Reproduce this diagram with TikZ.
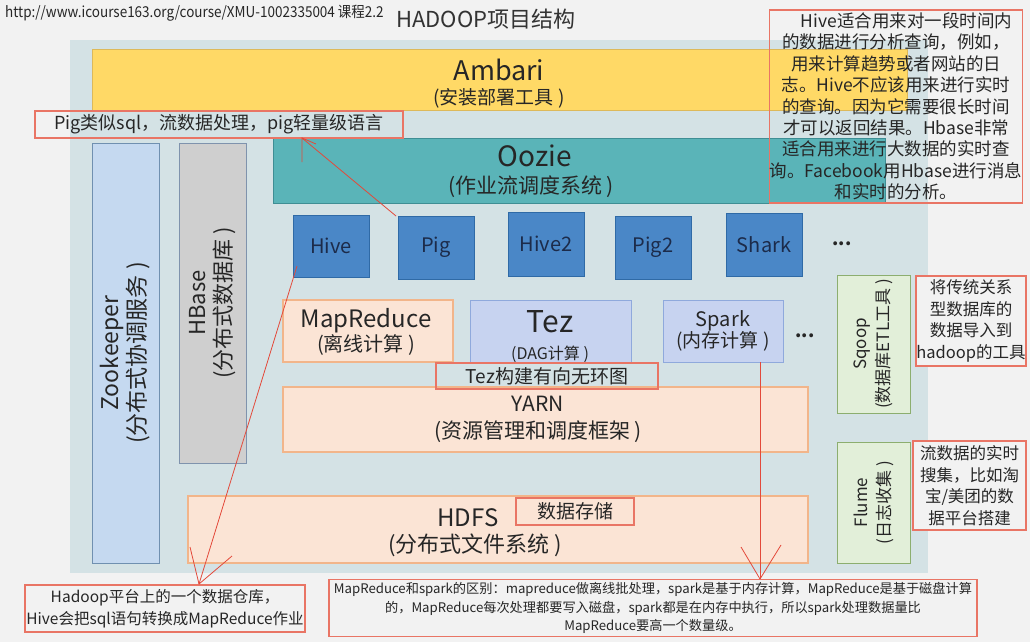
\documentclass[tikz,border=0pt]{standalone}
\usepackage{fontspec}
\setmainfont{Noto Sans CJK SC}
\usepackage{graphicx}
\definecolor{bgc}{HTML}{F2F2F2}
\definecolor{panelc}{HTML}{D4E2E5}
\definecolor{ambc}{HTML}{FFD966}
\definecolor{ambd}{HTML}{DDB95A}
\definecolor{oozc}{HTML}{5AB4B8}
\definecolor{oozd}{HTML}{3F8E94}
\definecolor{zkc}{HTML}{C5D9F0}
\definecolor{zkd}{HTML}{7090B0}
\definecolor{hbc}{HTML}{CFCFCF}
\definecolor{hbd}{HTML}{7F93AD}
\definecolor{bluec}{HTML}{4A87C7}
\definecolor{blued}{HTML}{2F6AA6}
\definecolor{bluet}{HTML}{1C2B4A}
\definecolor{peachc}{HTML}{FBE4D5}
\definecolor{peachd}{HTML}{F2B58A}
\definecolor{tezc}{HTML}{C7D3F0}
\definecolor{tezd}{HTML}{8FA9DC}
\definecolor{greenc}{HTML}{E2EFD9}
\definecolor{greend}{HTML}{8CAE6F}
\definecolor{notered}{HTML}{E97565}
\definecolor{arrred}{HTML}{E3493A}
\definecolor{txt}{HTML}{262626}
\newcommand\myfs[2]{\fontsize{#1}{#2}\selectfont}
\begin{document}
\begin{tikzpicture}[x=1pt,y=-1pt,
  box/.style={draw, line width=0.8pt, inner sep=0pt, align=center, text=txt},
  ambbox/.style={box, fill=ambc, draw=ambd},
  oozbox/.style={box, fill=oozc, draw=oozd},
  zkbox/.style={box, fill=zkc, draw=zkd},
  hbbox/.style={box, fill=hbc, draw=hbd},
  bluebox/.style={box, fill=bluec, draw=blued, text=bluet, minimum width=76pt, font=\myfs{20}{24}},
  peachbox/.style={box, fill=peachc, draw=peachd, line width=1.2pt},
  tezbox/.style={box, fill=tezc, draw=tezd, line width=1pt},
  greenbox/.style={box, fill=greenc, draw=greend, line width=1pt},
  note/.style={draw=notered, line width=1.1pt, inner sep=0pt, align=center, text=txt},
  lbl/.style={inner sep=0pt, align=center, text=txt},
  rot/.style={lbl, rotate=90},
  redline/.style={draw=arrred, line width=0.8pt},
  dots/.style={inner sep=0pt, text=txt, font=\myfs{18}{20}\bfseries}
]
\useasboundingbox (0,0) rectangle (1030,642);
\fill[bgc] (0,0) rectangle (1030,642);

% title and url
\node[lbl, anchor=west, font=\myfs{15}{17}] (url) at (5,13) {\scalebox{0.9}[1]{http://www.icourse163.org/course/XMU-1002335004 课程2.2}};
\node[lbl, font=\myfs{22}{24}, text=black!80] (title) at (486,19) {HADOOP项目结构};

% panel
\node[fill=panelc, inner sep=0pt, minimum width=858pt, minimum height=533pt] (panel) at (499,306.5) {};

% Ambari and Oozie
\node[ambbox, minimum width=815pt, minimum height=61pt] (ambari) at (499.5,79.5) {};
\node[lbl, font=\myfs{27}{30}] (ambt) at (499,70) {Ambari};
\node[lbl, font=\myfs{19}{22}] (ambs) at (499,98) {(安装部署工具 )};
\node[oozbox, minimum width=612pt, minimum height=65pt] (oozie) at (579,170.5) {};
\node[lbl, font=\myfs{28}{30}] (oozt) at (535,156) {Oozie};
\node[lbl, font=\myfs{21}{24}] (oozs) at (531,187) {(作业流调度系统 )};

% Zookeeper and HBase
\node[zkbox, minimum width=67pt, minimum height=420pt] (zk) at (125.5,353) {};
\node[rot, font=\myfs{23}{27}] (zkt) at (zk) {Zookeeper\\(分布式协调服务 )};
\node[hbbox, minimum width=67pt, minimum height=320pt] (hb) at (212.5,303) {};
\node[rot, font=\myfs{22}{26}] (hbt) at (hb) {HBase\\(分布式数据库 )};

% blue boxes
\node[bluebox, minimum height=62pt] (hive) at (331,246) {Hive};
\node[bluebox, minimum height=63pt] (pig) at (436,247.5) {Pig};
\node[bluebox, minimum height=64pt] (hive2) at (546,244) {Hive2};
\node[bluebox, minimum height=63pt] (pig2) at (653,247.5) {Pig2};
\node[bluebox, minimum height=63pt] (shark) at (764,244.5) {Shark};
\node[dots] (dots1) at (842,244) {...};

% processing row
\node[peachbox, minimum width=170pt, minimum height=62pt] (mr) at (368,331) {};
\node[lbl] (mrt) at (366,332) {{\myfs{24}{28}MapReduce}\\{\myfs{20}{26}(离线计算 )}};
\node[tezbox, minimum width=161pt, minimum height=62pt] (tez) at (550.5,331) {};
\node[lbl, font=\myfs{30}{32}] (tezt) at (550,322) {Tez};
\node[lbl, font=\myfs{16}{18}] (tezs) at (550,354) {(DAG计算 )};
\node[tezbox, minimum width=120pt, minimum height=62pt] (spark) at (723,331) {};
\node[lbl] (sparkt) at (723,331) {{\myfs{20}{23}Spark}\\{\myfs{19}{23}(内存计算 )}};
\node[dots] (dots2) at (805,336) {...};

% YARN and HDFS
\node[peachbox, minimum width=525pt, minimum height=65pt] (yarn) at (545.5,419.5) {};
\node[lbl, font=\myfs{21}{27}] (yarnt) at (538,419) {YARN\\(资源管理和调度框架 )};
\node[peachbox, minimum width=620pt, minimum height=67pt] (hdfs) at (498,529.5) {};
\node[lbl, font=\myfs{24}{26}] (hdfst) at (468,518) {HDFS};
\node[lbl, font=\myfs{22}{26}] (hdfss) at (475,545) {(分布式文件系统 )};

% Sqoop and Flume
\node[greenbox, minimum width=73pt, minimum height=138pt] (sqoop) at (873.5,344) {};
\node[rot, font=\myfs{17}{23}] (sqoopt) at (sqoop) {Sqoop\\(数据库ETL工具 )};
\node[greenbox, minimum width=73pt, minimum height=121pt] (flume) at (873.5,502.5) {};
\node[rot, font=\myfs{17}{23}] (flumet) at (flume) {Flume\\(日志收集 )};

% notes
\node[note, minimum width=244pt, minimum height=193pt, font=\myfs{17.5}{21.4}] (hivenote) at (896,106.5) {\hspace*{1.2em}Hive适合用来对一段时间内\\的数据进行分析查询，例如，\\用来计算趋势或者网站的日\\志。Hive不应该用来进行实时\\的查询。因为它需要很长时间\\才可以返回结果。Hbase非常\\适合用来进行大数据的实时查\\询。Facebook用Hbase进行消息\\和实时的分析。};
\node[note, minimum width=368pt, minimum height=27pt, font=\myfs{18}{20}] (pignote) at (219,124.5) {Pig类似sql，流数据处理，pig轻量级语言};
\node[note, minimum width=222pt, minimum height=26pt, font=\myfs{19}{20}] (teznote) at (547,376) {Tez构建有向无环图};
\node[note, minimum width=118pt, minimum height=27pt, font=\myfs{19}{20}] (storenote) at (575,511.5) {数据存储};
\node[note, fill=bgc, minimum width=110pt, minimum height=90pt, font=\myfs{16.5}{21.8}] (sqoopnote) at (971,321) {将传统关系\\型数据库的\\数据导入到\\hadoop的工具};
\node[note, fill=bgc, minimum width=113pt, minimum height=89pt, font=\myfs{16.5}{21.5}] (flumenote) at (969.5,485.5) {流数据的实时\\搜集，比如淘\\宝/美团的数\\据平台搭建};
\node[note, minimum width=280pt, minimum height=47pt, font=\myfs{15.5}{22.5}] (hivenote2) at (165,608.5) {Hadoop平台上的一个数据仓库，\\Hive会把sql语句转换成MapReduce作业};
\node[note, minimum width=648pt, minimum height=57pt, font=\myfs{13.2}{18.5}] (mrnote) at (653,608) {MapReduce和spark的区别：mapreduce做离线批处理，spark是基于内存计算，MapReduce是基于磁盘计算\\的，MapReduce每次处理都要写入磁盘，spark都是在内存中执行，所以spark处理数据量比\\MapReduce要高一个数量级。};

% annotation arrows
\coordinate (pigtip) at (302,138);
\coordinate (pigfrom) at (396,216);
\draw[redline] (pigfrom) -- (pigtip) -- ++(0,24);
\draw[redline] (pigtip) -- ++(14,6);

\coordinate (hivefrom) at (297,266);
\coordinate (hivetip) at (199,584);
\draw[redline] (hivefrom) -- (hivetip);
\draw[redline] (hivetip) -- (190,547);
\draw[redline] (hivetip) -- (232,556);

\coordinate (sparkfrom) at (760,362);
\coordinate (sparktip) at (760,579);
\draw[redline] (sparkfrom) -- (sparktip);
\draw[redline] (sparktip) -- (741,547);
\draw[redline] (sparktip) -- (781,545);
\end{tikzpicture}
\end{document}
